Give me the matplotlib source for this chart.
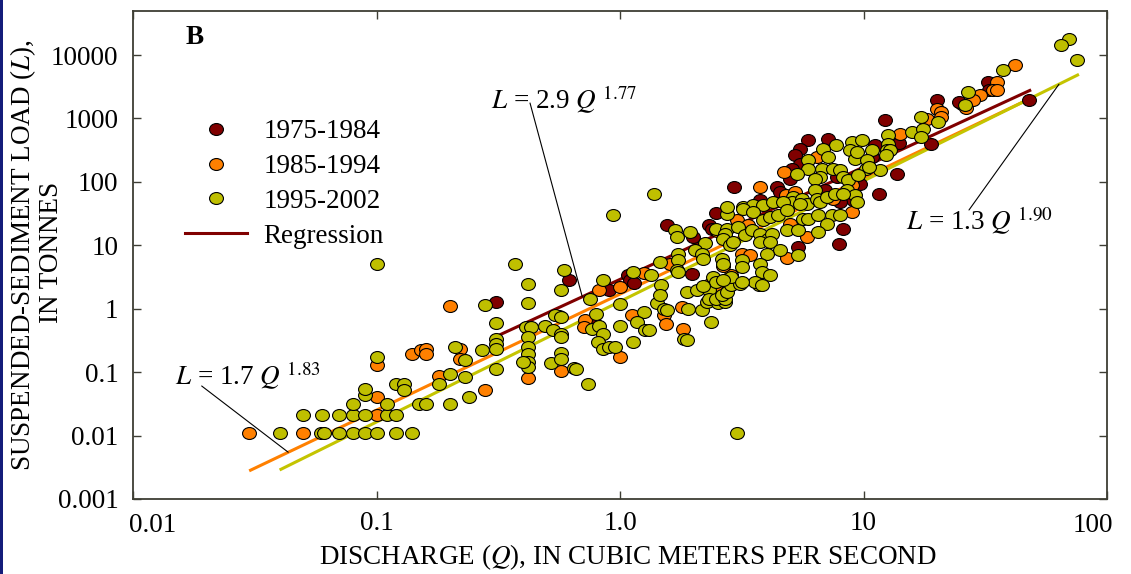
import numpy as np
import matplotlib
matplotlib.use("Agg")
import matplotlib.pyplot as plt
from matplotlib.path import Path
from matplotlib.lines import Line2D
from matplotlib.patches import Rectangle

# ---------------- data (Q in m3/s, L in tonnes) ----------------
series_labels = ["1975-1984", "1985-1994", "1995-2002"]

pts_1975 = [(0.31, 1.27), (0.62, 2.79), (0.78, 0.615), (2.49, 32.2), (1.56, 20.6),
            (2.0, 13.5), (2.31, 20.6), (2.38, 18.3), (1.97, 3.47), (0.90, 2.0),
            (1.08, 3.35), (1.10, 2.79), (1.14, 2.53), (12.3, 933), (5.93, 452),
            (7.17, 480), (5.48, 334), (5.23, 262), (11.1, 377), (10.8, 246),
            (5.48, 194), (5.07, 161), (7.76, 119), (4.99, 112), (2.94, 82.8),
            (4.40, 82.8), (4.54, 69.0), (6.95, 73.4), (9.68, 93.7), (11.6, 65.1),
            (3.76, 51.1), (9.08, 52.4), (8.0, 48.0), (8.26, 18.3), (7.95, 10.6),
            (5.40, 9.37), (32.6, 3750), (25.3, 1711), (20.1, 1929), (18.9, 390),
            (14.0, 409), (13.7, 131), (32.8, 2844), (24.7, 1815), (47.8, 1980)]

pts_1985 = [(0.03, 0.011), (0.05, 0.011), (0.10, 0.021), (0.10, 0.040), (0.10, 0.128),
            (0.14, 0.195), (0.153, 0.22), (0.16, 0.234), (0.16, 0.19), (0.18, 0.086),
            (0.20, 1.09), (0.22, 0.234), (0.22, 0.163), (0.28, 0.053), (0.56, 0.756),
            (0.57, 0.104), (0.42, 0.080), (0.72, 0.654), (0.71, 0.513), (1.0, 0.172),
            (1.12, 0.784), (1.51, 0.784), (1.54, 0.566), (1.81, 0.484), (1.79, 1.06),
            (2.51, 16.7), (1.60, 5.13), (0.82, 2.0), (1.0, 2.19), (1.25, 3.64),
            (2.34, 2.48), (2.46, 2.25), (6.42, 246), (4.71, 143), (3.76, 82.8),
            (4.80, 61.2), (5.23, 69.0), (7.52, 54.3), (8.94, 88), (3.01, 24.7),
            (3.36, 20.6), (4.99, 21.9), (8.94, 33.4), (5.85, 13.5), (4.83, 6.37),
            (3.16, 7.37), (3.42, 6.93), (2.87, 3.35), (2.66, 4.8), (35.4, 3750),
            (34.0, 2775), (35.4, 2775), (30.1, 2313), (28.2, 1929), (20.0, 1428),
            (20.9, 1262), (20.9, 1052), (18.2, 993), (14.1, 575), (41.9, 6880),
            (26.4, 1480)]

pts_1995 = [(0.04, 0.011), (0.05, 0.021), (0.059, 0.011), (0.061, 0.011), (0.06, 0.021),
            (0.07, 0.011), (0.07, 0.021), (0.08, 0.011), (0.08, 0.021), (0.08, 0.032),
            (0.09, 0.011), (0.09, 0.021), (0.09, 0.043), (0.09, 0.055), (0.10, 0.172),
            (0.10, 0.011), (0.11, 0.021), (0.11, 0.032), (0.12, 0.011), (0.12, 0.021),
            (0.12, 0.064), (0.13, 0.064), (0.13, 0.053), (0.14, 0.011), (0.15, 0.032),
            (0.16, 0.032), (0.18, 0.064), (0.20, 0.094), (0.20, 0.032), (0.21, 0.248),
            (0.23, 0.153), (0.23, 0.083), (0.24, 0.041), (0.27, 0.22), (0.28, 1.13),
            (0.31, 0.593), (0.31, 0.336), (0.31, 0.281), (0.31, 0.234), (0.31, 0.113),
            (0.10, 5.0), (0.37, 5.0), (0.59, 4.02), (0.42, 2.48), (0.57, 1.94),
            (0.42, 1.23), (0.54, 0.784), (0.57, 0.737), (0.41, 0.513), (0.43, 0.513),
            (0.49, 0.532), (0.53, 0.455), (0.57, 0.403), (0.57, 0.356), (0.42, 0.356),
            (0.42, 0.248), (0.42, 0.195), (0.42, 0.144), (0.42, 0.12), (0.40, 0.144),
            (0.52, 0.139), (0.57, 0.20), (0.57, 0.163), (0.65, 0.116), (1.0, 1.20),
            (0.80, 0.834), (0.77, 0.484), (0.82, 0.526), (0.85, 0.403), (0.81, 0.297),
            (0.85, 0.234), (0.90, 0.248), (0.95, 0.248), (1.0, 0.526), (1.25, 0.884),
            (1.17, 0.615), (1.27, 0.455), (1.31, 0.466), (1.13, 0.297), (0.66, 0.113),
            (0.74, 0.064), (1.42, 1.23), (1.51, 1.0), (1.56, 0.94), (1.83, 0.336),
            (1.89, 0.324), (1.91, 1.0), (2.17, 0.964), (2.27, 1.27), (2.36, 0.615),
            (2.52, 1.23), (2.70, 1.27), (3.02, 0.011), (0.94, 29.6), (2.74, 31.5),
            (1.68, 17.2), (1.71, 13.5), (1.93, 16.1), (2.49, 18.3), (2.74, 18.3),
            (2.70, 15.2), (2.66, 12.7), (2.23, 10.8), (2.03, 8.31), (2.17, 7.37),
            (2.20, 6.15), (1.73, 7.37), (1.73, 5.78), (1.46, 5.43), (1.71, 4.02),
            (1.73, 3.78), (0.85, 2.87), (1.13, 3.78), (1.34, 3.35), (1.48, 2.33),
            (0.75, 1.44), (1.88, 1.83), (2.07, 1.94), (2.31, 1.94), (2.42, 3.15),
            (2.49, 2.63), (2.20, 2.25), (2.31, 1.44), (2.49, 1.44), (2.70, 1.44),
            (2.62, 6.15), (2.66, 5.13), (1.46, 1.62), (2.62, 1.62), (2.76, 1.83),
            (2.87, 2.33), (3.10, 2.48), (3.74, 2.33), (12.6, 541), (12.6, 401),
            (7.71, 377), (6.84, 334), (8.94, 425), (9.84, 452), (8.80, 314),
            (9.23, 232), (9.38, 295), (10.8, 314), (12.5, 314), (10.3, 218),
            (10.2, 161), (11.7, 156), (7.17, 246), (5.93, 218), (5.93, 161),
            (5.35, 131), (6.73, 161), (6.62, 119), (6.32, 112), (7.52, 161),
            (8.0, 152), (8.26, 119), (8.66, 106), (9.52, 127), (5.15, 57.6),
            (5.07, 48.0), (5.57, 54.3), (5.85, 45.3), (6.32, 73.4), (6.42, 54.3),
            (6.62, 48.0), (7.06, 57.6), (7.64, 65.1), (8.53, 73.4), (9.23, 61.2),
            (9.38, 48.0), (8.26, 65.1), (2.74, 40.1), (3.21, 40.1), (3.53, 42.6),
            (3.88, 42.6), (4.26, 48.0), (4.69, 48.0), (1.38, 65.1), (3.21, 37.8),
            (3.53, 33.4), (3.06, 19.4), (3.26, 14.3), (3.47, 17.2), (3.76, 15.2),
            (4.06, 12.7), (4.20, 15.2), (3.88, 24.7), (4.13, 27.9), (4.47, 29.6),
            (4.83, 35.5), (5.48, 45.3), (4.83, 17.2), (5.40, 17.2), (5.66, 26.3),
            (5.93, 26.3), (6.52, 29.6), (7.40, 29.6), (7.06, 21.4), (8.0, 29.6),
            (6.52, 16.1), (2.83, 9.96), (2.92, 11.2), (3.76, 11.2), (4.13, 11.2),
            (4.54, 8.53), (5.40, 6.93), (4.0, 7.37), (3.16, 5.78), (3.16, 4.53),
            (3.76, 5.13), (3.82, 3.78), (4.13, 3.35), (3.58, 2.63), (3.82, 2.33),
            (2.87, 3.15), (3.16, 2.63), (2.66, 2.79), (37.4, 5700), (26.9, 2609),
            (26.1, 1610), (20.3, 877), (17.3, 1052), (15.8, 610), (17.6, 690),
            (17.3, 509), (12.8, 314), (12.4, 262), (10.5, 171), (69.8, 18100),
            (64.7, 14200), (75.3, 8240)]

# regression L = a * Q^b
reg_coef = [2.9, 1.7, 1.3]
reg_exp = [1.77, 1.83, 1.90]
reg_qmin = [0.316, 0.030, 0.040]
reg_qmax = [48.8, 45.0, 76.7]

x_ticks = [0.01, 0.1, 1, 10, 100]
x_ticklabels = ["0.01", "0.1", "1.0", "10", "100"]
y_ticks = [0.001, 0.01, 0.1, 1, 10, 100, 1000, 10000]
y_ticklabels = ["0.001", "0.01", "0.1", "1", "10", "100", "1000", "10000"]

colors = ["#800000", "#FF8000", "#BFBF00"]
line_colors = ["#800000", "#FF8000", "#C4C400"]
spine_col = "#3e3e34"
FS = 19.5

# ---------------- style ----------------
plt.rcParams["font.family"] = ["Liberation Serif", "DejaVu Serif"]
plt.rcParams["mathtext.fontset"] = "stix"

W, H = 1131, 574
fig = plt.figure(figsize=(W / 100, H / 100), dpi=100)
ax = fig.add_axes([133 / W, 75 / H, 974 / W, 488 / H])
ax.set_xscale("log")
ax.set_yscale("log")
ax.set_xlim(0.01, 100)
ax.set_ylim(0.001, 49400)

circ = Path.unit_circle()
ellipse = Path(circ.vertices * np.array([1.0, 0.86]), circ.codes)

# regression lines
for a, b, q0, q1, c in zip(reg_coef, reg_exp, reg_qmin, reg_qmax, line_colors):
    q = np.logspace(np.log10(q0), np.log10(q1), 50)
    ax.plot(q, a * q ** b, color=c, lw=2.2, zorder=2, solid_capstyle="butt")

# points
for pts, c in zip([pts_1975, pts_1985, pts_1995], colors):
    arr = np.array(pts)
    ax.scatter(arr[:, 0], arr[:, 1], s=100, marker=ellipse, facecolor=c,
               edgecolor="black", linewidth=0.8, zorder=3)

# ticks
ax.set_xticks(x_ticks)
ax.set_xticklabels(["", "0.1", "1.0", "10", ""])
ax.set_yticks(y_ticks)
ax.set_yticklabels(y_ticklabels)
ax.minorticks_off()
ax.tick_params(which="both", direction="in", length=6, width=1.0, color=spine_col,
               top=True, right=True, labelsize=FS, labelcolor="black")
ax.tick_params(axis="y", pad=10.5)
ax.tick_params(axis="x", pad=9)
for sp in ax.spines.values():
    sp.set_color(spine_col)
    sp.set_linewidth(1.3)

# end x labels (shifted like the reference)
ax.text(-0.004, -0.028, x_ticklabels[0], transform=ax.transAxes, ha="left", va="top",
        fontsize=FS)
ax.text(1.0065, -0.028, x_ticklabels[-1], transform=ax.transAxes, ha="right", va="top",
        fontsize=FS)

# axis titles
fig.text(628 / W, 1 - 557 / H, "DISCHARGE ($Q$), IN CUBIC METERS PER SECOND",
         ha="center", va="center", fontsize=FS)
fig.text(23.5 / W, 1 - 255 / H, "SUSPENDED-SEDIMENT LOAD ($L$),",
         ha="center", va="center", rotation=90, fontsize=FS)
fig.text(52 / W, 1 - 252 / H, "IN TONNES",
         ha="center", va="center", rotation=90, fontsize=FS)

ax.text(0.0637, 0.9467, "B", transform=ax.transAxes, ha="center", va="center",
        fontsize=FS, fontweight="bold")

# legend
handles = [Line2D([], [], ls="", marker=ellipse, markersize=10, markerfacecolor=c,
                  markeredgecolor="black", markeredgewidth=0.8) for c in colors]
handles.append(Line2D([], [], color=colors[0], lw=2.2))
ax.legend(handles, series_labels + ["Regression"], loc="upper left",
          bbox_to_anchor=(0.0534, 0.778), frameon=False, fontsize=FS,
          borderpad=0, handlelength=2.3, handletextpad=0.6, labelspacing=0.36,
          borderaxespad=0)

# equations with leader lines
eq_text = [r"$L$ = 2.9 $Q^{\ 1.77}$", r"$L$ = 1.7 $Q^{\ 1.83}$", r"$L$ = 1.3 $Q^{\ 1.90}$"]
eq_pos = [(0.3676, 0.799), (0.0431, 0.2336), (0.7937, 0.5512)]
lead_start = [(0.4076, 0.8115), (0.0705, 0.2316), (0.8583, 0.5922)]
lead_q = [0.70, 0.0434, 63.5]
lead_series = [0, 1, 2]
for t, p, s, qe, k in zip(eq_text, eq_pos, lead_start, lead_q, lead_series):
    ax.text(p[0], p[1], t, transform=ax.transAxes, ha="left", va="baseline",
            fontsize=FS, zorder=5)
    ax.annotate("", xy=(qe, reg_coef[k] * qe ** reg_exp[k]), xycoords="data",
                xytext=s, textcoords="axes fraction",
                arrowprops=dict(arrowstyle="-", lw=0.8, color="black",
                                shrinkA=0, shrinkB=0), zorder=4)

# thin dark-blue slide edge at the left
fig.add_artist(Rectangle((0, 0), 3 / W, 1, transform=fig.transFigure,
                         color="#141c7a", lw=0))

fig.savefig("out.png", dpi=100)
